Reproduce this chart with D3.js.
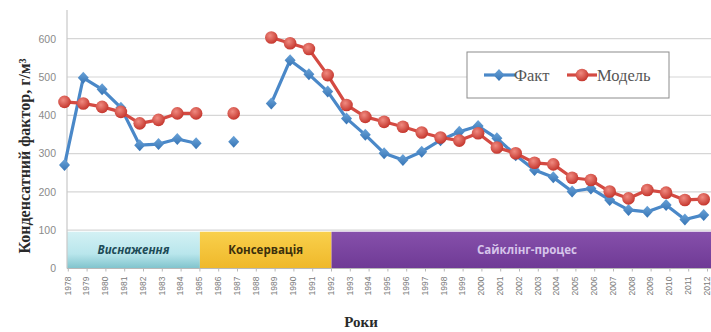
<!DOCTYPE html>
<html>
<head>
<meta charset="utf-8">
<script src="https://cdn.jsdelivr.net/npm/d3@7"></script>
<style>
  html, body { margin: 0; padding: 0; background: #fff; }
  svg { display: block; }
</style>
</head>
<body>
<svg id="chart" width="711" height="332"></svg>
<script>
// Condensate factor by year: measured vs. model
const years = ["1978","1979","1980","1981","1982","1983","1984","1985","1986","1987",
  "1988","1989","1990","1991","1992","1993","1994","1995","1996","1997","1998","1999",
  "2000","2001","2002","2003","2004","2005","2006","2007","2008","2009","2010","2011","2012"];
const fact = [270, 498, 468, 420, 322, 325, 338, 327, null, 331, null, 431, 544, 507, 462,
  392, 349, 301, 283, 305, 335, 357, 372, 340, 296, 257, 238, 201, 209, 179, 153, 148, 166, 128, 140];
const model = [435, 431, 422, 409, 379, 388, 405, 405, null, 405, null, 603, 588, 573, 505,
  427, 396, 383, 370, 355, 342, 334, 353, 316, 301, 276, 272, 237, 231, 201, 183, 205, 198, 179, 181];
const yTicks = [0, 100, 200, 300, 400, 500, 600];

// Development stages shown as a band along the bottom
const stageNames = ["Виснаження", "Консервація", "Сайклінг-процес"];
const stageFrom = ["1978", "1985", "1992"];
const stageTo = ["1985", "1992", "2012"];
const stageLevel = 96;

const seriesNames = ["Факт", "Модель"];

const W = 711, H = 332;
const svg = d3.select("#chart");
const defs = svg.append("defs");

const x = d3.scalePoint().domain(years).range([64.5, 64.5 + 34 * 18.8]);
const tickShift = 3.8;
const axisX = 67;
const y = d3.scaleLinear().domain([0, 675]).range([268.5, 10]);

// gradients
const gCyan = defs.append("linearGradient").attr("id", "gCyan").attr("x1", 0).attr("y1", 0).attr("x2", 0).attr("y2", 1);
gCyan.append("stop").attr("offset", "0%").attr("stop-color", "#d3f1f4");
gCyan.append("stop").attr("offset", "60%").attr("stop-color", "#b9e6ec");
gCyan.append("stop").attr("offset", "100%").attr("stop-color", "#7fc3cc");
const gYel = defs.append("linearGradient").attr("id", "gYel").attr("x1", 0).attr("y1", 0).attr("x2", 0).attr("y2", 1);
gYel.append("stop").attr("offset", "0%").attr("stop-color", "#f9d04c");
gYel.append("stop").attr("offset", "100%").attr("stop-color", "#efb82a");
const gPur = defs.append("linearGradient").attr("id", "gPur").attr("x1", 0).attr("y1", 0).attr("x2", 0).attr("y2", 1);
gPur.append("stop").attr("offset", "0%").attr("stop-color", "#8650ab");
gPur.append("stop").attr("offset", "100%").attr("stop-color", "#6f3a95");
const gBall = defs.append("radialGradient").attr("id", "gBall").attr("cx", "40%").attr("cy", "35%").attr("r", "65%");
gBall.append("stop").attr("offset", "0%").attr("stop-color", "#f08a80");
gBall.append("stop").attr("offset", "100%").attr("stop-color", "#c5372e");
const gDia = defs.append("linearGradient").attr("id", "gDia").attr("x1", 0).attr("y1", 0).attr("x2", 0).attr("y2", 1);
gDia.append("stop").attr("offset", "0%").attr("stop-color", "#6aa3d8");
gDia.append("stop").attr("offset", "100%").attr("stop-color", "#3674b5");

const stageFill = ["url(#gCyan)", "url(#gYel)", "url(#gPur)"];
const stageText = ["#1d4b57", "#3b2f0c", "#d6c4ea"];
const stageStyle = ["italic", "normal", "normal"];

// gridlines
svg.append("g").selectAll("line").data(yTicks.filter(d => d > 0)).join("line")
  .attr("x1", axisX).attr("x2", W)
  .attr("y1", d => y(d)).attr("y2", d => y(d))
  .attr("stroke", "#d6d6d6").attr("stroke-width", 1.2);

// stage band
const bandG = svg.append("g");
stageNames.forEach((name, i) => {
  const x0 = i === 0 ? axisX : x(stageFrom[i]) + tickShift;
  const x1 = i === stageNames.length - 1 ? W : x(stageTo[i]) + tickShift;
  bandG.append("rect")
    .attr("x", x0).attr("y", y(stageLevel))
    .attr("width", x1 - x0).attr("height", y(0) - y(stageLevel))
    .attr("fill", stageFill[i]);
  const cx = i === stageNames.length - 1 ? 527 : (x0 + x1) / 2;
  bandG.append("text")
    .attr("x", cx).attr("y", (y(stageLevel) + y(0)) / 2 + 4)
    .attr("text-anchor", "middle")
    .attr("font-family", "'Open Sans', sans-serif")
    .attr("font-weight", "bold").attr("font-style", stageStyle[i])
    .attr("font-size", 11.5)
    .attr("fill", stageText[i])
    .text(name);
});

// axes
svg.append("line").attr("x1", axisX).attr("x2", axisX).attr("y1", 10).attr("y2", y(0))
  .attr("stroke", "#c8c8c8").attr("stroke-width", 1.2);
svg.append("line").attr("x1", axisX).attr("x2", W).attr("y1", y(0)).attr("y2", y(0))
  .attr("stroke", "#b8b8b8").attr("stroke-width", 1.2);

// y tick labels
svg.append("g").selectAll("text").data(yTicks).join("text")
  .attr("x", 56).attr("y", d => y(d) + 3.8)
  .attr("text-anchor", "end")
  .attr("font-family", "'Liberation Sans', sans-serif")
  .attr("font-size", 10.5).attr("fill", "#8a8a8a")
  .text(d => d);

// x ticks and labels
const xg = svg.append("g");
xg.selectAll("line").data(years).join("line")
  .attr("x1", d => x(d) + tickShift).attr("x2", d => x(d) + tickShift)
  .attr("y1", y(0)).attr("y2", y(0) + 3)
  .attr("stroke", "#b8b8b8");
xg.selectAll("text").data(years).join("text")
  .attr("transform", d => `translate(${x(d) + tickShift + 2.3},${y(0) + 8}) rotate(-90)`)
  .attr("text-anchor", "end")
  .attr("font-family", "'Liberation Sans', sans-serif")
  .attr("font-size", 8.5).attr("fill", "#7a7a7a")
  .text(d => d);

// axis titles
svg.append("text")
  .attr("transform", `translate(30,156) rotate(-90)`)
  .attr("text-anchor", "middle")
  .attr("font-family", "'Liberation Serif', serif")
  .attr("font-weight", "bold").attr("font-size", 16).attr("fill", "#2a2a2a")
  .text("Конденсатний фактор, г/м³");
svg.append("text")
  .attr("x", 361).attr("y", 327)
  .attr("text-anchor", "middle")
  .attr("font-family", "'Liberation Serif', serif")
  .attr("font-weight", "bold").attr("font-size", 15).attr("fill", "#2a2a2a")
  .text("Роки");

// series
const rows = years.map((yr, i) => ({ yr, fact: fact[i], model: model[i] }));
const diamondPath = "M0,-6L5.5,0L0,6L-5.5,0Z";

function drawSeries(key, color) {
  const line = d3.line().defined(d => d[key] != null).x(d => x(d.yr)).y(d => y(d[key]));
  svg.append("path").datum(rows).attr("d", line)
    .attr("fill", "none").attr("stroke", color).attr("stroke-width", 3.2)
    .attr("stroke-linejoin", "round");
}
drawSeries("fact", "#4a88c8");
svg.append("g").selectAll("path").data(rows.filter(d => d.fact != null)).join("path")
  .attr("transform", d => `translate(${x(d.yr)},${y(d.fact)})`)
  .attr("d", diamondPath).attr("fill", "url(#gDia)");

drawSeries("model", "#d44a42");
svg.append("g").selectAll("circle").data(rows.filter(d => d.model != null)).join("circle")
  .attr("cx", d => x(d.yr)).attr("cy", d => y(d.model)).attr("r", 6.3)
  .attr("fill", "url(#gBall)");

// legend
const lg = svg.append("g");
lg.append("rect").attr("x", 467).attr("y", 52).attr("width", 202).attr("height", 46)
  .attr("fill", "#fff").attr("stroke", "#8c8c8c").attr("stroke-width", 1);
lg.append("line").attr("x1", 484).attr("x2", 515).attr("y1", 75).attr("y2", 75)
  .attr("stroke", "#4a88c8").attr("stroke-width", 3.2);
lg.append("path").attr("transform", "translate(499,75)").attr("d", diamondPath).attr("fill", "url(#gDia)");
lg.append("line").attr("x1", 567).attr("x2", 597).attr("y1", 75).attr("y2", 75)
  .attr("stroke", "#d44a42").attr("stroke-width", 3.2);
lg.append("circle").attr("cx", 582).attr("cy", 75).attr("r", 6.3).attr("fill", "url(#gBall)");
lg.selectAll("text.lbl").data(seriesNames).join("text")
  .attr("class", "lbl")
  .attr("x", (d, i) => i === 0 ? 514 : 597).attr("y", 81)
  .attr("font-family", "'Liberation Serif', serif")
  .attr("font-size", 16.5).attr("fill", "#555")
  .text(d => d);
</script>
</body>
</html>
